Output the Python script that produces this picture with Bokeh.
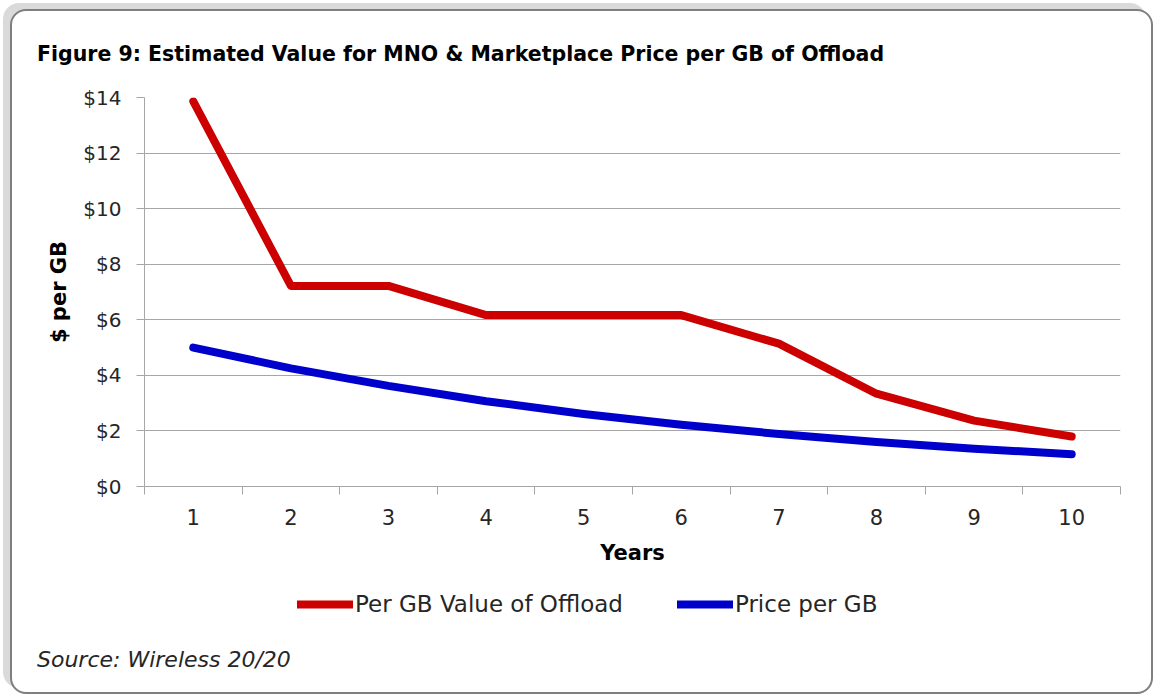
import html
from bokeh.plotting import figure
from bokeh.layouts import column
from bokeh.models import (FixedTicker, NumeralTickFormatter, Legend, LegendItem, Range1d, Div)
from bokeh.embed import file_html
from bokeh.resources import INLINE

# ---- data ----
years = [1, 2, 3, 4, 5, 6, 7, 8, 9, 10]
value_per_gb = [13.86, 7.22, 7.22, 6.17, 6.17, 6.17, 5.14, 3.34, 2.37, 1.80]
price_per_gb = [5.00, 4.25, 3.62, 3.07, 2.61, 2.22, 1.89, 1.60, 1.36, 1.16]
y_ticks = [0, 2, 4, 6, 8, 10, 12, 14]
title_text = "Figure 9: Estimated Value for MNO & Marketplace Price per GB of Offload"
source_text = "Source: Wireless 20/20"
series_names = ["Per GB Value of Offload", "Price per GB"]
series_colors = ["#cc0000", "#0000cc"]

FONT = "DejaVu Sans"
GRID = "#a6a6a6"
WIDTH = 1139
TOP_H, MAIN_H, LEG_H, SRC_H = 66, 493, 60, 62

# ---- title strip ----
top = Div(width=WIDTH, height=TOP_H, margin=0,
          text=f'<div style="padding:32px 0 0 25px; font-family:\'{FONT}\'; font-weight:bold; '
               f'font-size:20.5px; line-height:22px; color:black; white-space:nowrap;">'
               f'{html.escape(title_text)}</div>')

# ---- main chart ----
p = figure(width=WIDTH, height=MAIN_H, output_backend="svg", toolbar_location=None,
           x_range=Range1d(years[0] - 0.5, years[-1] + 0.5),
           y_range=Range1d(y_ticks[0], y_ticks[-1]),
           min_border_left=132, min_border_top=20, min_border_right=31, min_border_bottom=84)
p.border_fill_alpha = 0
p.outline_line_color = None
p.background_fill_alpha = 0

p.xgrid.visible = False
p.ygrid.ticker = FixedTicker(ticks=y_ticks)
p.ygrid.grid_line_color = GRID
p.ygrid.grid_line_width = 1

ya = p.yaxis[0]
ya.ticker = FixedTicker(ticks=y_ticks)
ya.formatter = NumeralTickFormatter(format="$0")
ya.axis_line_color = GRID
ya.major_tick_line_color = GRID
ya.major_tick_out = 8
ya.major_tick_in = 0
ya.minor_tick_line_color = None
ya.major_label_standoff = 15
ya.major_label_text_font = FONT
ya.major_label_text_font_size = "20px"
ya.major_label_text_color = "#262626"
ya.axis_label = "$ per GB"
ya.axis_label_text_font = FONT
ya.axis_label_text_font_style = "bold"
ya.axis_label_text_font_size = "21px"
ya.axis_label_text_color = "black"
ya.axis_label_standoff = 9

xa = p.xaxis[0]
bounds = [y - 0.5 for y in years] + [years[-1] + 0.5]
xa.ticker = FixedTicker(ticks=years, minor_ticks=bounds)
xa.axis_line_color = GRID
xa.major_tick_line_color = None
xa.major_tick_out = 0
xa.major_tick_in = 0
xa.minor_tick_line_color = GRID
xa.minor_tick_out = 8
xa.minor_tick_in = 0
xa.major_label_standoff = 14
xa.major_label_text_font = FONT
xa.major_label_text_font_size = "21px"
xa.major_label_text_color = "#262626"
xa.axis_label = "Years"
xa.axis_label_text_font = FONT
xa.axis_label_text_font_style = "bold"
xa.axis_label_text_font_size = "21px"
xa.axis_label_text_color = "black"
xa.axis_label_standoff = 13

for vals, col in zip([value_per_gb, price_per_gb], series_colors):
    p.line(years, vals, line_color=col, line_width=8, line_cap="round", line_join="round")

# ---- legend strip ----
leg = figure(width=WIDTH, height=LEG_H, output_backend="svg", toolbar_location=None,
             x_range=Range1d(0, 1), y_range=Range1d(-20, -19), min_border=0)
leg.axis.visible = False
leg.grid.visible = False
leg.outline_line_color = None
leg.border_fill_alpha = 0
leg.background_fill_alpha = 0
items = []
for name, vals, col in zip(series_names, [value_per_gb, price_per_gb], series_colors):
    r = leg.line(years, vals, line_color=col, line_width=8, line_cap="round")
    items.append(LegendItem(label=name, renderers=[r]))
legend = Legend(items=items, location=(153, 13), orientation="horizontal", padding=0, margin=0,
                spacing=54, border_line_color=None, background_fill_alpha=0,
                glyph_width=56, glyph_height=20, label_standoff=2, label_height=20,
                label_text_font=FONT, label_text_font_size="23px", label_text_color="#262626")
leg.add_layout(legend, "center")

# ---- source strip ----
src = Div(width=WIDTH, height=SRC_H, margin=0,
          text=f'<div style="padding:18px 0 0 25px; font-family:\'{FONT}\'; font-style:italic; '
               f'font-size:22px; line-height:24px; color:#262626; white-space:nowrap;">'
               f'{html.escape(source_text)}</div>')

layout = column(top, p, leg, src, spacing=0)
layout.styles = {"border": "2px solid #7f7f7f", "border-radius": "16px",
                 "box-shadow": "-7px -6px 0 0 #dadada", "background-color": "white",
                 "overflow": "hidden", "margin-left": "10px", "margin-top": "9px"}

open("out.html", "w").write(file_html(layout, INLINE))
